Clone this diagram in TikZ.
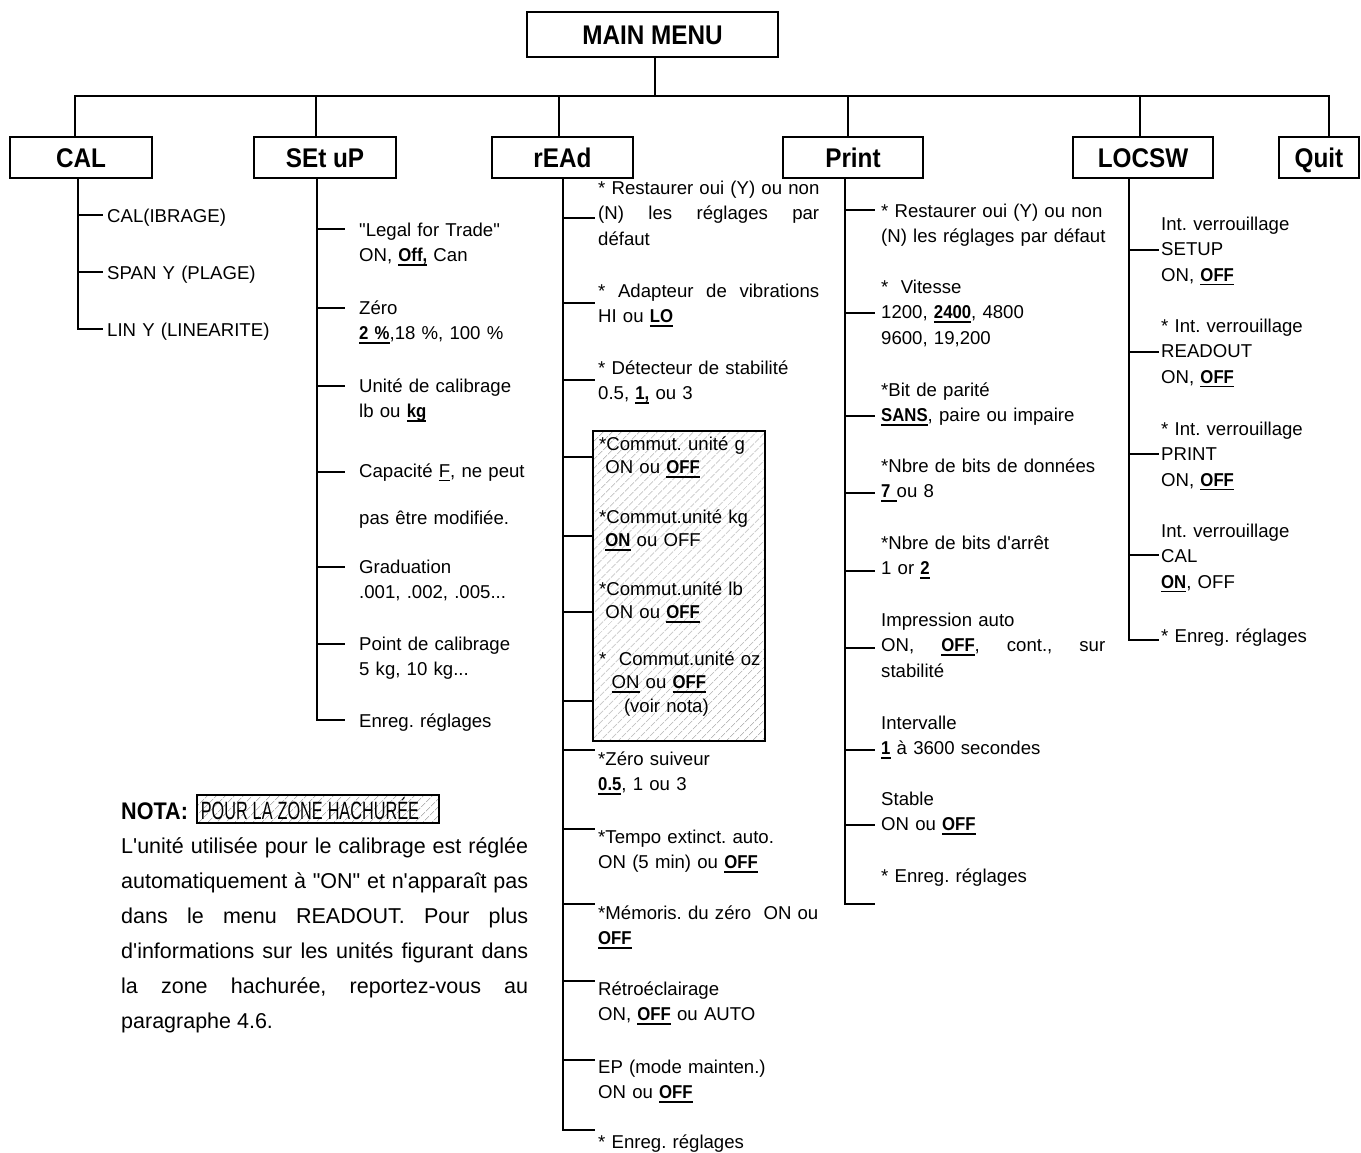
\documentclass[tikz,border=0pt]{standalone}
\usepackage{fontspec}
\setmainfont{Liberation Sans}[Ligatures=TeXOff]
\newfontfamily\headfont[FakeStretch=0.9]{Liberation Sans}
\newfontfamily\narrowfont[FakeStretch=0.65,Ligatures=TeXOff]{Liberation Sans}
\usetikzlibrary{patterns.meta}
\frenchspacing

% underlined default values
\newcommand\ul[1]{\setbox0\hbox{#1}\leavevmode\rlap{\vrule height -2.6pt depth 4.2pt width \wd0}\box0\relax}
\newcommand\df[1]{\ul{\headfont\bfseries #1}}
\newcommand\up{\rule{0pt}{18pt}}

\tikzset{
  tree/.style={line width=2.2pt},
  menubox/.style={draw, line width=2.2pt, inner sep=0pt, minimum height=41pt,
    text height=19.5pt, text depth=0pt,
    font=\headfont\bfseries\fontsize{27}{30}\selectfont},
  item/.style={anchor=north west, inner sep=0pt, text width=250pt, align=left,
    yshift=18pt, font=\fontsize{18.6}{25.5}\selectfont},
  zoneitem/.style={item, font=\fontsize{18.6}{23.5}\selectfont},
  hatch/.style={pattern={Lines[angle=45,distance=6.5pt,line width=0.6pt]}, pattern color=black!45}
}

\begin{document}
\begin{tikzpicture}[x=1pt,y=-1pt]
  \useasboundingbox (0,0) rectangle (1361,1153);
  \fill[white] (0,0) rectangle (1361,1153);
  % menu boxes
  \node[menubox, minimum width=251pt, minimum height=45pt] (main) at (652.5,34.5) {MAIN MENU};
  \node[menubox, minimum width=142pt] (cal) at (81,157.5) {CAL};
  \node[menubox, minimum width=142pt] (setup) at (325,157.5) {SEt uP};
  \node[menubox, minimum width=141pt] (read) at (562.5,157.5) {rEAd};
  \node[menubox, minimum width=140pt] (print) at (853,157.5) {Print};
  \node[menubox, minimum width=140pt] (locsw) at (1143,157.5) {LOCSW};
  \node[menubox, minimum width=80pt] (quit) at (1319,157.5) {Quit};
  % bus
  \draw[tree] ([xshift=2.5pt]main.south) -- ++(0,38) coordinate (hub);
  \foreach \n/\dx in {cal/-6,setup/-9,read/-3.5,print/-5,locsw/-3,quit/10}
    \draw[tree] ([xshift=\dx pt]\n.north) |- (hub);

  % CAL
  \draw[tree] ([xshift=-3pt]cal.south) |- (103,329);
  \foreach \ty/\txt [count=\i] in {215/CAL(IBRAGE), 272/SPAN Y (PLAGE), 329/LIN Y (LINEARITE)} {
    \draw[tree] (78,\ty) -- (103,\ty);
    \node[item] (cal-\i) at (107,\ty+7) {\up\txt};
  }

  % SEt uP
  \draw[tree] ([xshift=-8pt]setup.south) |- (345,720);
  \foreach \ty/\by/\txt [count=\i] in {
      229/236/{"Legal for Trade"\\ON, \df{Off,} Can},
      308/314/{Zéro\\\df{2 \%},18 \%, 100 \%},
      386/392/{Unité de calibrage\\lb ou \df{kg}},
      472/477/{Capacité \ul{F}, ne peut\\[22pt]pas être modifiée.},
      567/573/{Graduation\\.001, .002, .005...},
      644/650/{Point de calibrage\\5 kg, 10 kg...},
      720/727/{Enreg. réglages}} {
    \draw[tree] (317,\ty) -- (345,\ty);
    \node[item] (setup-\i) at (359,\by) {\up\txt};
  }

  % rEAd
  \node[draw, line width=2.2pt, hatch, anchor=north west, inner sep=0pt,
    minimum width=172pt, minimum height=310pt] (zone) at (593,431) {};
  \draw[tree] ([xshift=0.5pt]read.south) |- (595,1130);
  \foreach \ty/\by/\txt [count=\i] in {
      218/194/{* Restaurer oui (Y) ou non\\\makebox[221pt][s]{(N)\hfill les\hfill réglages\hfill par}\\défaut},
      303/297/{\makebox[221pt][s]{*\hfill Adapteur\hfill de\hfill vibrations}\\HI ou \df{LO}},
      380/374/{* Détecteur de stabilité\\0.5, \df{1,} ou 3},
      750/765/{*Zéro suiveur\\\df{0.5}, 1 ou 3},
      829/843/{*Tempo extinct. auto.\\ON (5 min) ou \df{OFF}},
      904/919/{*Mémoris. du zéro\ \ ON ou\\\df{OFF}},
      981/995/{Rétroéclairage\\ON, \df{OFF} ou AUTO},
      1060/1073/{EP (mode mainten.)\\ON ou \df{OFF}},
      1130/1148/{* Enreg. réglages}} {
    \draw[tree] (563,\ty) -- (595,\ty);
    \node[item] (read-\i) at (598,\by) {\up\txt};
  }
  \foreach \ty/\by/\txt [count=\i] in {
      457/450/{*Commut. unité g\\\ ON ou \df{OFF}},
      536/523/{*Commut.unité kg\\\ \df{ON} ou OFF},
      612/595/{*Commut.unité lb\\\ ON ou \df{OFF}},
      701/665/{* \ Commut.unité oz\\\ \ \ul{ON} ou \df{OFF}\\\ \ \ \ (voir nota)}} {
    \draw[tree] (563,\ty) -- (zone.west |- 0,\ty);
    \node[zoneitem] (unit-\i) at (599,\by) {\up\txt};
  }

  % Print
  \draw[tree] ([xshift=-8pt]print.south) |- (875,904);
  \foreach \ty/\by/\txt [count=\i] in {
      210/217/{* Restaurer oui (Y) ou non\\(N) les réglages par défaut},
      313/293/{* \ Vitesse\\1200, \df{2400}, 4800\\9600, 19,200},
      416/396/{*Bit de parité\\\df{SANS}, paire ou impaire},
      493/472/{*Nbre de bits de données\\\df{7 }ou 8},
      571/549/{*Nbre de bits d'arrêt\\1 or \df{2}},
      648/626/{Impression auto\\\makebox[224pt][s]{ON,\hfill\df{OFF},\hfill cont.,\hfill sur}\\stabilité},
      750/729/{Intervalle\\\df{1} à 3600 secondes},
      825/805/{Stable\\ON ou \df{OFF}}} {
    \draw[tree] (845,\ty) -- (875,\ty);
    \node[item] (print-\i) at (881,\by) {\up\txt};
  }
  \node[item] (print-save) at (881,882) {\up* Enreg. réglages};

  % LOCSW
  \draw[tree] ([xshift=-14pt]locsw.south) |- (1159,640);
  \foreach \ty/\by/\txt [count=\i] in {
      250/230/{Int. verrouillage\\SETUP\\ON, \df{OFF}},
      352/332/{* Int. verrouillage\\READOUT\\ON, \df{OFF}},
      454/435/{* Int. verrouillage\\PRINT\\ON, \df{OFF}},
      555/537/{Int. verrouillage\\CAL\\\df{ON}, OFF},
      640/642/{* Enreg. réglages}} {
    \draw[tree] (1129,\ty) -- (1159,\ty);
    \node[item] (locsw-\i) at (1161,\by) {\up\txt};
  }

  % note
  \node[anchor=base west, inner sep=0pt, font=\headfont\bfseries\fontsize{24}{28}\selectfont]
    (nota) at (121,819) {NOTA:};
  \node[draw, line width=1.6pt, hatch, anchor=west, inner xsep=4pt, inner ysep=0pt,
    text width=234pt, minimum height=28pt, font=\narrowfont\fontsize{25}{28}\selectfont]
    (zonebox) at (196,809) {\spaceskip=5pt\relax POUR LA ZONE HACHURÉE};
  \node[anchor=north west, inner sep=0pt, text width=407pt, align=justify, yshift=24pt,
    font=\fontsize{21.5}{35}\selectfont] (notatext) at (121,853)
    {\tolerance=10000\rule{0pt}{24pt}L'unité utilisée pour le calibrage est réglée\linebreak
     automatiquement à "ON" et n'apparaît pas\linebreak
     dans le menu READOUT. Pour plus\linebreak
     d'informations sur les unités figurant dans\linebreak
     la zone hachurée, reportez-vous au\linebreak
     paragraphe 4.6.};
\end{tikzpicture}
\end{document}
